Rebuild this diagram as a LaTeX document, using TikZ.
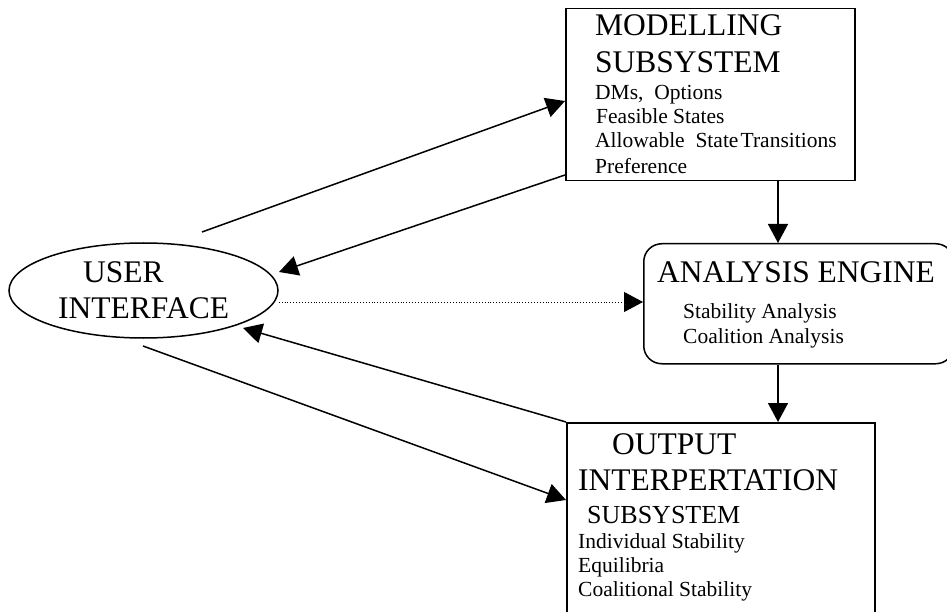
\documentclass[tikz,border=0pt]{standalone}
\usepackage{fontspec}
\setmainfont{Liberation Serif}
\usetikzlibrary{arrows.meta,shapes.geometric}
\begin{document}
\begin{tikzpicture}[x=1pt,y=-1pt,
  box/.style={draw,line width=1.5pt,inner sep=0pt,anchor=north west},
  conn/.style={line width=1.5pt},
  arr/.style={conn,-{Triangle[length=19pt,width=20pt]}},
  big/.style={anchor=base west,inner sep=0pt,font=\fontsize{31.5}{36}\selectfont},
  mid/.style={anchor=base west,inner sep=0pt,font=\fontsize{26}{30}\selectfont},
  small/.style={anchor=base west,inner sep=0pt,font=\fontsize{21.5}{24}\selectfont}]
\useasboundingbox (0,0) rectangle (947,612);
\clip (0,0) rectangle (947,612);
% boxes
\node[box,minimum width=289pt,minimum height=172pt] (mod) at (565,8) {};
\node[box,rounded corners=18pt,minimum width=310pt,minimum height=120pt] (ana) at (643,243) {};
\node[box,minimum width=308pt,minimum height=230pt] (out) at (566,422) {};
\node[draw,ellipse,line width=1.5pt,minimum width=269pt,minimum height=95pt,inner sep=0pt] (ui) at (143.5,290.5) {};
% texts
\node[big] (t1) at (595,36) {MODELLING};
\node[big] (t2) at (595,73) {SUBSYSTEM};
\node[small] (t3) at (595,100) {DMs,\ \ Options};
\node[small] (t4) at (596,124) {Feasible States};
\node[small] (t5) at (595,148) {Allowable\ \ State\hspace{0.1em}Transitions};
\node[small] (t6) at (595,174) {Preference};
\node[big] (t7) at (657,282) {ANALYSIS ENGINE};
\node[small] (t8) at (683,318) {Stability Analysis};
\node[small] (t9) at (683,343) {Coalition Analysis};
\node[big] (t10) at (612,454) {OUTPUT};
\node[big] (t11) at (578,490) {INTERPERTATION};
\node[mid] (t12) at (587,523) {SUBSYSTEM};
\node[small] (t13) at (578,548) {Individual Stability};
\node[small] (t14) at (578,572) {Equilibria};
\node[small] (t15) at (578,596) {Coalitional Stability};
\node[big] (u1) at (83,283) {USER};
\node[big] (u2) at (58,318) {INTERFACE};
% connector end points
\coordinate (c1s) at (202,232);
\coordinate (c2e) at (279,272);
\coordinate (c4e) at (243,328);
\coordinate (c5s) at (143,346);
\coordinate (vx) at (778,0);
% connectors
\draw[arr] (c1s) -- (mod.west |- 0,101);
\draw[arr] (mod.west |- 0,175) -- (c2e);
\draw[arr,line width=0.9pt,dotted] (ui.east |- 0,302) -- (ana.west |- 0,302);
\draw[arr] (out.north west) -- (c4e);
\draw[arr] (c5s) -- (out.west |- 0,500);
\draw[arr] (mod.south -| vx) -- (ana.north -| vx);
\draw[arr] (ana.south -| vx) -- (out.north -| vx);
\end{tikzpicture}
\end{document}
